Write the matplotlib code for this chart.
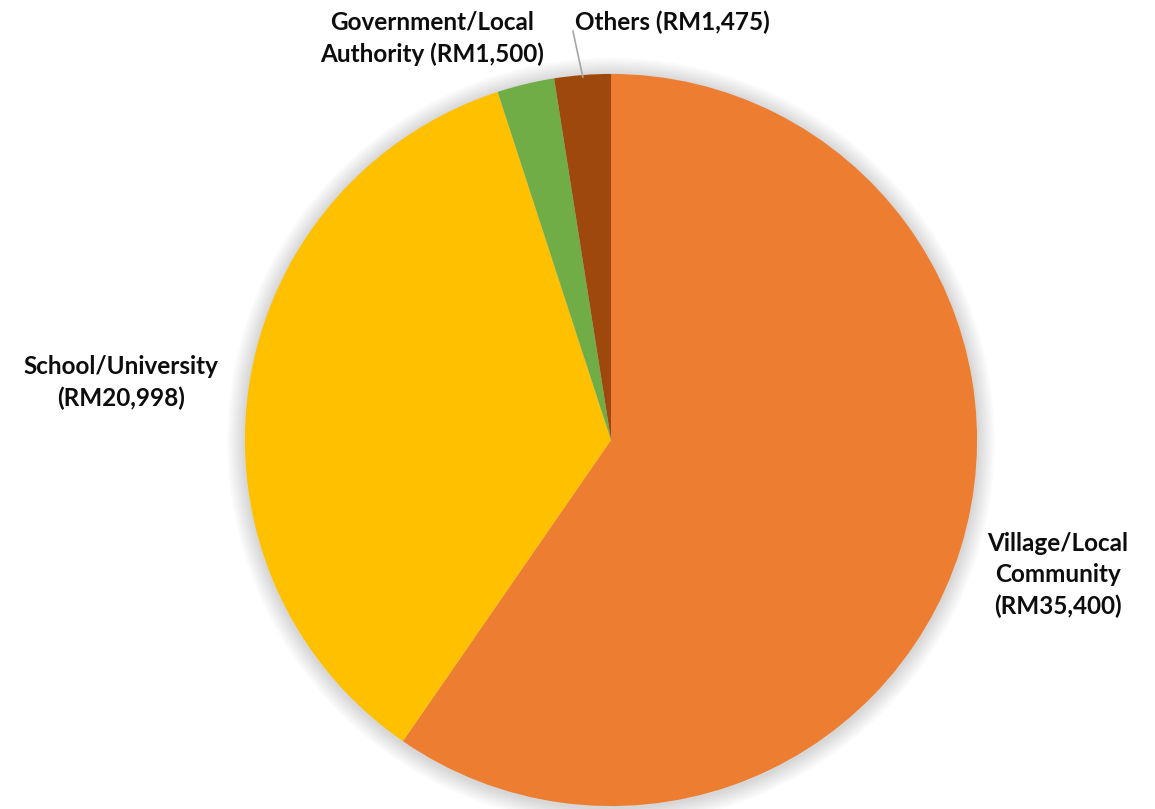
import matplotlib
matplotlib.use("Agg")
from matplotlib import pyplot as plt
from matplotlib.patches import Circle

categories = ["Village/Local\nCommunity", "School/University", "Government/Local\nAuthority", "Others"]
amounts = [35400, 20998, 1500, 1475]
colors = ["#ED7D31", "#FFC000", "#70AD47", "#9E480E"]

labels = [
    "{}\n(RM{:,})".format(categories[0], amounts[0]),
    "{}\n(RM{:,})".format(categories[1], amounts[1]),
    "{} (RM{:,})".format(categories[2], amounts[2]),
    "{} (RM{:,})".format(categories[3], amounts[3]),
]

plt.rcParams['font.family'] = ['Lato', 'DejaVu Sans']

fig = plt.figure(figsize=(11.55, 8.09), dpi=100)
ax = fig.add_axes([0, 0, 1, 1])

# soft shadow round the pie
for i in range(8):
    ax.add_patch(Circle((0, -0.004), 1.0 + 0.006 * (i + 1), color='#000000',
                        alpha=0.018, lw=0, zorder=0))

wedges, _ = ax.pie(amounts, colors=colors, startangle=90, counterclock=False,
                   radius=1.0, wedgeprops=dict(linewidth=0))
for w in wedges:
    w.set_zorder(2)

ax.set_xlim(-1.669, 1.486)
ax.set_ylim(-1.008, 1.202)
ax.set_aspect('equal')
ax.axis('off')

txt = dict(fontsize=17.5, fontweight='bold', color='#0d0d0d', ha='center',
           va='center', linespacing=1.45)
ax.text(1.221, -0.369, labels[0], **txt)
ax.text(-1.339, 0.156, labels[1], **txt)
ax.text(-0.489, 1.098, labels[2], **txt)
ax.text(-0.097, 1.142, labels[3], fontsize=17.5, fontweight='bold', color='#0d0d0d',
        ha='left', va='center')
ax.plot([-0.104, -0.077], [1.117, 0.992], color='#a6a6a6', lw=1.2, zorder=3)

plt.savefig("out.png", dpi=100)
